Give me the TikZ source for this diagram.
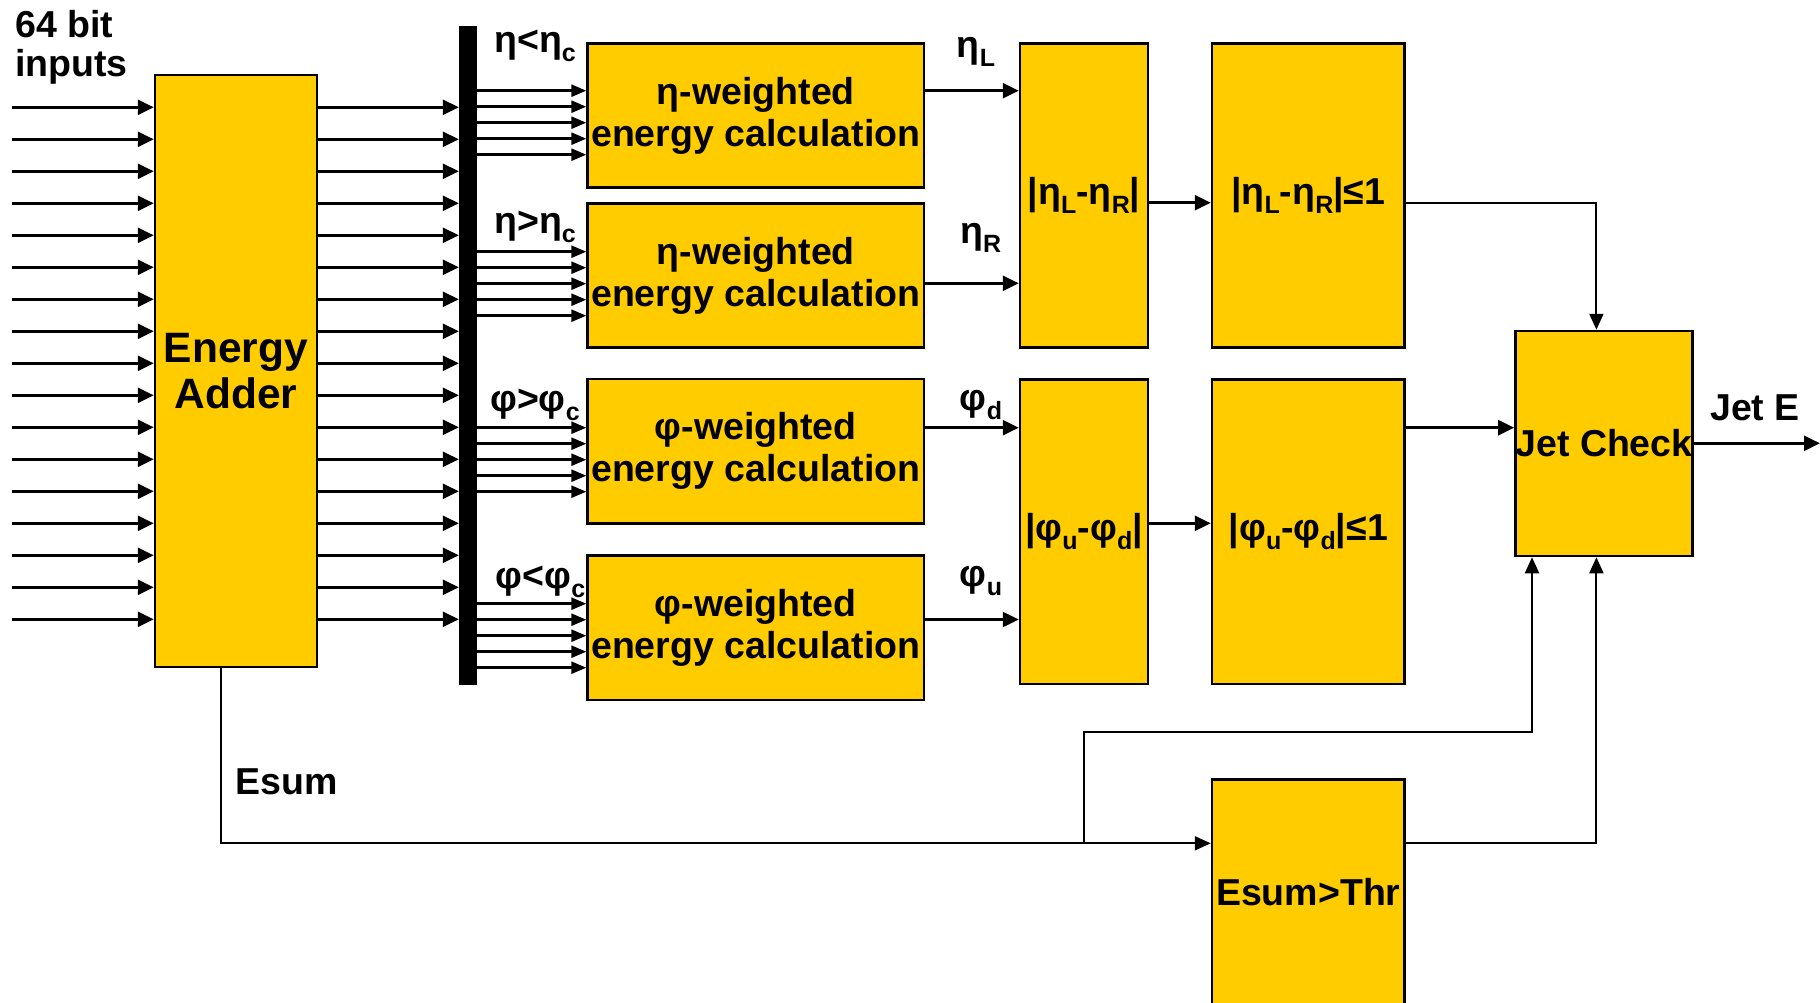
\documentclass[tikz,border=0pt]{standalone}
\usepackage{fontspec}
\setmainfont{Liberation Sans}
\usetikzlibrary{arrows.meta}
\definecolor{boxyellow}{HTML}{FFCC00}
\newcommand\myfs{\fontsize{37.5}{42}\selectfont\bfseries}
\newcommand\bigfs{\fontsize{42.5}{46}\selectfont\bfseries}
\newcommand\mysub[1]{\raisebox{-9pt}{\fontsize{25}{25}\selectfont\bfseries #1}}
\begin{document}
\begin{tikzpicture}[x=1pt,y=-1pt,
  box/.style={draw=black,line width=2.5pt,fill=boxyellow,inner sep=0pt,align=center,font=\myfs},
  lbl/.style={inner sep=0pt,font=\myfs},
  arr/.style={line width=2.5pt,-{Triangle[length=16pt,width=15pt]}},
  sarr/.style={line width=2.5pt,-{Triangle[length=15pt,width=12pt]}},
  earr/.style={line width=2pt,-{Triangle[length=16pt,width=14pt]}},
  ln/.style={line width=2pt}]
\useasboundingbox (0,0) rectangle (1820,1003);
\clip (0,0) rectangle (1820,1003);

% boxes
\node[box,minimum width=162pt,minimum height=592pt,font=\bigfs] (adder) at (236,371) {Energy\\Adder};
\node[fill=black,inner sep=0pt,minimum width=18pt,minimum height=659pt] (bar) at (468,355.5) {};
\node[box,minimum width=336.5pt,minimum height=144.4pt] (eta1) at (755.8,115.5) {η-weighted\\energy calculation};
\node[box,minimum width=336.5pt,minimum height=144.4pt] (eta2) at (755.8,275.5) {η-weighted\\energy calculation};
\node[box,minimum width=336.5pt,minimum height=144.4pt] (phi1) at (755.8,451.3) {φ-weighted\\energy calculation};
\node[box,minimum width=336.5pt,minimum height=144.4pt] (phi2) at (755.8,627.8) {φ-weighted\\energy calculation};
\node[box,minimum width=128pt,minimum height=304.4pt] (deta) at (1084,195.5) {|η\mysub{L}-η\mysub{R}|};
\node[box,minimum width=128pt,minimum height=304.4pt] (dphi) at (1084,531.7) {|φ\mysub{u}-φ\mysub{d}|};
\node[box,minimum width=192.6pt,minimum height=304.4pt] (ceta) at (1308.3,195.5) {|η\mysub{L}-η\mysub{R}|≤1};
\node[box,minimum width=192.6pt,minimum height=304.4pt] (cphi) at (1308.3,531.7) {|φ\mysub{u}-φ\mysub{d}|≤1};
\node[box,minimum width=176pt,minimum height=225pt] (jet) at (1604,443.5) {Jet Check};
\node[box,minimum width=192.6pt,minimum height=225pt] (thr) at (1308.3,891.8) {Esum>Thr};

% labels
\node[lbl,anchor=north west,align=left,font=\fontsize{37.5}{39}\selectfont\bfseries] (inl) at (15,10) {64 bit\\inputs};
\node[lbl] (l1) at (535,46) {η<η\mysub{c}};
\node[lbl] (l2) at (535,227) {η>η\mysub{c}};
\node[lbl] (l3) at (535,405) {φ>φ\mysub{c}};
\node[lbl] (l4) at (540.6,582) {φ<φ\mysub{c}};
\node[lbl] (l5) at (976,52) {η\mysub{L}};
\node[lbl] (l6) at (980.6,238) {η\mysub{R}};
\node[lbl] (l7) at (981,405) {φ\mysub{d}};
\node[lbl] (l8) at (981,581) {φ\mysub{u}};
\node[lbl] (l9) at (1755,407.5) {Jet E};
\node[lbl] (l10) at (287,781.5) {Esum};

% inputs and adder outputs
\foreach \k in {0,...,16} {
  \pgfmathsetmacro\yy{107.3+32*\k}
  \coordinate (in\k) at (11.5,\yy);
  \draw[arr] (in\k) -- (in\k -| adder.west);
  \draw[arr] (in\k -| adder.east) -- (in\k -| bar.west);
}

% bar to blocks
\foreach \blk/\ys in {eta1/90.7,eta2/251.7,phi1/427.7,phi2/603.7} {
  \foreach \k in {0,...,4} {
    \pgfmathsetmacro\yy{\ys+16*\k}
    \path (bar.east |- 0,\yy) coordinate (b-\blk-\k);
    \draw[sarr] (b-\blk-\k) -- (b-\blk-\k -| \blk.west);
  }
}

% block outputs
\coordinate (o1) at (0,90.7);
\coordinate (o2) at (0,283.3);
\coordinate (o3) at (0,427.7);
\coordinate (o4) at (0,619.5);
\draw[arr] (eta1.east |- o1) -- (deta.west |- o1);
\draw[arr] (eta2.east |- o2) -- (deta.west |- o2);
\draw[arr] (phi1.east |- o3) -- (dphi.west |- o3);
\draw[arr] (phi2.east |- o4) -- (dphi.west |- o4);

\coordinate (o5) at (0,202.7);
\coordinate (o6) at (0,523.3);
\draw[arr] (deta.east |- o5) -- (ceta.west |- o5);
\draw[arr] (dphi.east |- o6) -- (cphi.west |- o6);

\coordinate (ej) at (1596.4,202.7);
\draw[earr] (ceta.east |- ej) -- (ej) -- (ej |- jet.north);
\draw[arr] (cphi.east |- o3) -- (jet.west |- o3);

\coordinate (jo) at (1820,443.3);
\draw[arr] (jet.east |- jo) -- (jo);

% Esum paths
\coordinate (ec) at (220.5,843.3);
\coordinate (br) at (1084,843.3);
\coordinate (bt) at (1084,731.7);
\coordinate (bj) at (1532,731.7);
\coordinate (tj) at (1596.4,843.3);
\draw[earr] (adder.south -| ec) -- (ec) -- (ec -| thr.west);
\draw[earr] (br) -- (bt) -- (bj) -- (bj |- jet.south);
\draw[earr] (thr.east |- tj) -- (tj) -- (tj |- jet.south);
\end{tikzpicture}
\end{document}
